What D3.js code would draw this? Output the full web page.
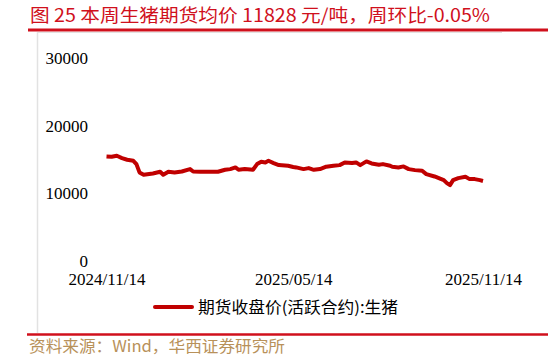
<!DOCTYPE html>
<html>
<head>
<meta charset="utf-8">
<script src="https://cdn.jsdelivr.net/npm/d3@7"></script>
<style>
    body { margin: 0; background: #fff; }
    svg { display: block; }
</style>
</head>
<body>
<svg class="chart"></svg>
<script>
var dates = [
    "2024-11-14", "2024-11-19", "2024-11-24", "2024-11-29", "2024-12-04", "2024-12-10",
    "2024-12-13", "2024-12-16", "2024-12-20", "2024-12-29", "2025-01-05", "2025-01-08",
    "2025-01-13", "2025-01-19", "2025-01-26", "2025-02-03", "2025-02-06", "2025-02-13",
    "2025-03-02", "2025-03-09", "2025-03-14", "2025-03-19", "2025-03-22", "2025-03-28",
    "2025-04-05", "2025-04-09", "2025-04-13", "2025-04-17", "2025-04-20", "2025-04-25",
    "2025-04-30", "2025-05-09", "2025-05-14", "2025-05-17", "2025-05-24", "2025-05-29",
    "2025-06-03", "2025-06-09", "2025-06-15", "2025-06-22", "2025-06-28", "2025-07-03",
    "2025-07-10", "2025-07-14", "2025-07-18", "2025-07-24", "2025-07-29", "2025-08-05",
    "2025-08-09", "2025-08-16", "2025-08-18", "2025-08-24", "2025-08-29", "2025-09-03",
    "2025-09-09", "2025-09-16", "2025-09-20", "2025-09-28", "2025-10-07", "2025-10-10",
    "2025-10-13", "2025-10-16", "2025-10-21", "2025-10-28", "2025-11-01", "2025-11-06",
    "2025-11-11", "2025-11-14"
];

var prices = [
    15450, 15400, 15550, 15210, 14960, 14810,
    14320, 13090, 12740, 12940, 13190, 12740,
    13190, 13090, 13230, 13580, 13230, 13190,
    13190, 13480, 13580, 13830, 13480, 13580,
    13480, 14320, 14670, 14570, 14810, 14470,
    14170, 14070, 13900, 13830, 13580, 13730,
    13480, 13580, 13930, 14070, 14170, 14570,
    14470, 14570, 14170, 14720, 14420, 14220,
    14320, 14070, 13930, 13830, 13980, 13580,
    13430, 13330, 12840, 12490, 11950, 11510,
    11210, 11950, 12250, 12440, 12100, 12100,
    11950, 11830
];

var yTicks = [0, 10000, 20000, 30000];
var xTicks = ["2024-11-14", "2025-05-14", "2025-11-14"];

var titleText = "图 25 本周生猪期货均价 11828 元/吨，周环比-0.05%";
var seriesName = "期货收盘价(活跃合约):生猪";
var sourceText = "资料来源：Wind，华西证券研究所";

var width = 548,
    height = 361,
    red = "#c00000",
    serif = "'Liberation Serif', 'Times New Roman', serif",
    cjk = "'Noto Sans CJK SC', 'Noto Sans', sans-serif",
    parse = d3.timeParse("%Y-%m-%d"),
    fmt = d3.timeFormat("%Y/%m/%d"),
    data = [],
    chart, x, y, line;

for (var i = 0; i < dates.length; i++) {
    data.push({ date: parse(dates[i]), value: prices[i] });
}

chart = d3.select(".chart")
    .attr("width", width)
    .attr("height", height);

// title + rules
chart.append("text")
    .attr("x", 30)
    .attr("y", 22)
    .attr("fill", "#d0101c")
    .style("font-family", cjk)
    .style("font-size", "18px")
    .attr("textLength", 460)
    .attr("lengthAdjust", "spacingAndGlyphs")
    .text(titleText);

chart.append("line")
    .attr("x1", 37.5).attr("x2", 502)
    .attr("y1", 32.5).attr("y2", 32.5)
    .attr("stroke", "#e2e2e2");

chart.append("line")
    .attr("x1", 37.5).attr("x2", 37.5)
    .attr("y1", 32).attr("y2", 333)
    .attr("stroke", "#e2e2e2")
    .attr("stroke-width", 1.5);

chart.append("line")
    .attr("x1", 28).attr("x2", width)
    .attr("y1", 30).attr("y2", 30)
    .attr("stroke", "#d0101c")
    .attr("stroke-width", 3);

chart.append("line")
    .attr("x1", 27).attr("x2", width)
    .attr("y1", 334.5).attr("y2", 334.5)
    .attr("stroke", "#d0101c")
    .attr("stroke-width", 2.5);

chart.append("text")
    .attr("x", 29)
    .attr("y", 352)
    .attr("fill", "#b8915a")
    .style("font-family", cjk)
    .style("font-size", "16px")
    .attr("textLength", 256)
    .attr("lengthAdjust", "spacingAndGlyphs")
    .text(sourceText);

// scales
x = d3.scaleTime()
    .domain([parse(xTicks[0]), parse(xTicks[xTicks.length - 1])])
    .range([106.5, 483]);

y = d3.scaleLinear()
    .domain([0, 30000])
    .range([261, 58]);

// y axis labels only, no line
var yAxis = chart.append("g")
    .attr("transform", "translate(88,0)")
    .call(d3.axisLeft(y).tickValues(yTicks).tickSize(0).tickPadding(0)
        .tickFormat(function(d) { return d; }));
yAxis.select(".domain").remove();
yAxis.selectAll("text")
    .attr("fill", "#000")
    .style("font-family", serif)
    .style("font-size", "17px");

var xAxis = chart.append("g")
    .attr("transform", "translate(0,273)")
    .call(d3.axisBottom(x).tickValues(xTicks.map(parse)).tickSize(0).tickPadding(0)
        .tickFormat(function(d) { return fmt(d); }));
xAxis.select(".domain").remove();
xAxis.selectAll("text")
    .attr("fill", "#000")
    .style("font-family", serif)
    .style("font-size", "17px");

// series
line = d3.line()
    .x(function(d) { return x(d.date); })
    .y(function(d) { return y(d.value); });

chart.append("path")
    .datum(data)
    .attr("fill", "none")
    .attr("stroke", red)
    .attr("stroke-width", 4)
    .attr("stroke-linejoin", "round")
    .attr("d", line);

// legend
chart.append("line")
    .attr("x1", 155).attr("x2", 192)
    .attr("y1", 307).attr("y2", 307)
    .attr("stroke", red)
    .attr("stroke-width", 4)
    .attr("stroke-linecap", "round");

chart.append("text")
    .attr("x", 198)
    .attr("y", 313)
    .attr("fill", "#000")
    .style("font-family", cjk)
    .style("font-size", "16px")
    .attr("textLength", 200)
    .attr("lengthAdjust", "spacingAndGlyphs")
    .text(seriesName);
</script>
</body>
</html>
